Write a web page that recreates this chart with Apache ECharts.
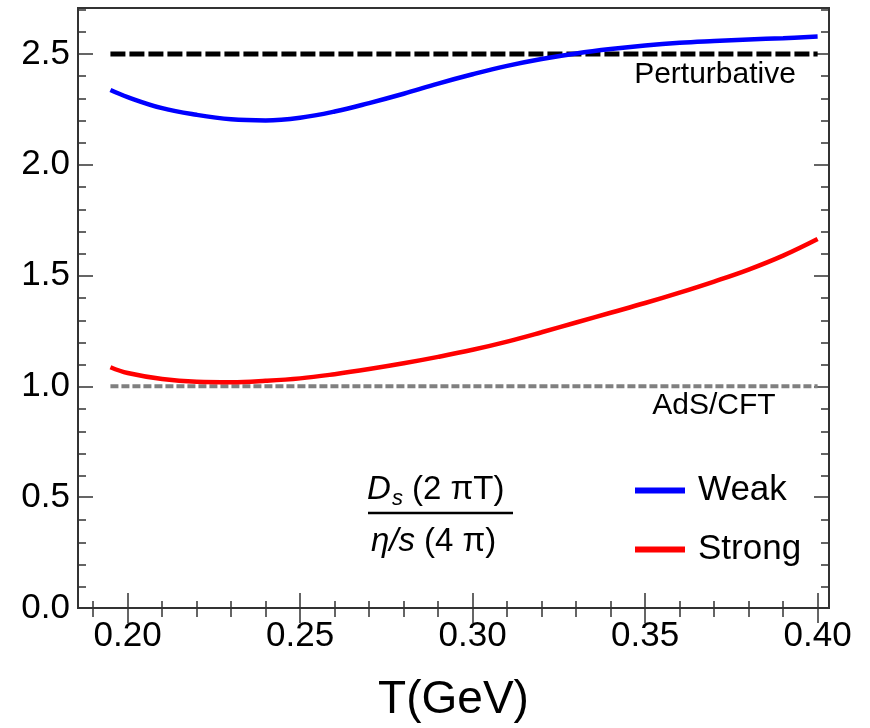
<!DOCTYPE html>
<html>
<head>
<meta charset="utf-8">
<script src="https://cdn.jsdelivr.net/npm/echarts@6/dist/echarts.min.js"></script>
<style>
  html, body { margin: 0; padding: 0; background: #fff; }
  #chart { width: 870px; height: 728px; }
</style>
</head>
<body>
<div id="chart"></div>
<script>
// Temperature grid (GeV)
const temperature = [0.195, 0.20, 0.21, 0.22, 0.23, 0.24, 0.25, 0.26, 0.27, 0.28, 0.29,
                     0.30, 0.31, 0.32, 0.33, 0.34, 0.35, 0.36, 0.37, 0.38, 0.39, 0.40];
// D_s(2πT) / (η/s · 4π) ratio
const weak   = [2.337, 2.305, 2.255, 2.225, 2.205, 2.200, 2.212, 2.240, 2.278, 2.320, 2.366,
                2.408, 2.446, 2.477, 2.502, 2.522, 2.538, 2.550, 2.558, 2.565, 2.571, 2.578];
const strong = [1.086, 1.060, 1.033, 1.021, 1.019, 1.025, 1.036, 1.055, 1.078, 1.104, 1.133,
                1.165, 1.202, 1.244, 1.288, 1.332, 1.376, 1.423, 1.473, 1.527, 1.590, 1.665];
// Reference limits
const perturbativeLimit = 2.5;
const adsCftLimit = 1.0;
const limitRange = [0.195, 0.40];

// Axis ranges and ticks
const xRange = [0.1856, 0.4033];
const yRange = [0, 2.707];
const xMajorTicks = [0.20, 0.25, 0.30, 0.35, 0.40];
const yMajorTicks = [0.0, 0.5, 1.0, 1.5, 2.0, 2.5];

function minorTicks(from, to, step, majors) {
  const out = [];
  const n = Math.round((to - from) / step);
  for (let i = 0; i <= n; i++) {
    const v = +(from + i * step).toFixed(4);
    if (!majors.some(m => Math.abs(m - v) < 1e-6)) out.push(v);
  }
  return out;
}
const xMinorTicks = minorTicks(0.19, 0.40, 0.01, xMajorTicks);
const yMinorTicks = minorTicks(0.1, 2.7, 0.1, yMajorTicks);

const FONT = '"Liberation Sans", Arial, sans-serif';
const FRAME = '#333';

const toPairs = (xs, ys) => xs.map((x, i) => [x, ys[i]]);

const gridRect = { left: 78, right: 41, top: 8, bottom: 119 };

function xAxisDef(gridIndex, position, ticks, len, withLabels) {
  return {
    type: 'value', gridIndex, position, min: xRange[0], max: xRange[1],
    axisLine: { show: false },
    splitLine: { show: false },
    axisTick: { show: true, inside: true, length: len, customValues: ticks,
                lineStyle: { color: FRAME, width: 1.5 } },
    axisLabel: withLabels ? {
      show: true, customValues: ticks, margin: 11, color: '#000',
      fontFamily: FONT, fontSize: 35, formatter: v => v.toFixed(2)
    } : { show: false }
  };
}
function yAxisDef(gridIndex, position, ticks, len, withLabels) {
  return {
    type: 'value', gridIndex, position, min: yRange[0], max: yRange[1],
    axisLine: { show: false },
    splitLine: { show: false },
    axisTick: { show: true, inside: true, length: len, customValues: ticks,
                lineStyle: { color: FRAME, width: 1.5 } },
    axisLabel: withLabels ? {
      show: true, customValues: ticks, margin: 8, color: '#000',
      fontFamily: FONT, fontSize: 35, formatter: v => v.toFixed(1)
    } : { show: false }
  };
}

const xAxes = [
  xAxisDef(0, 'bottom', xMajorTicks, 15, true),
  xAxisDef(0, 'top', xMajorTicks, 15, false),
  xAxisDef(1, 'bottom', xMinorTicks, 8, false),
  xAxisDef(1, 'top', xMinorTicks, 8, false)
];
Object.assign(xAxes[0], {
  name: 'T(GeV)', nameLocation: 'middle', nameGap: 69,
  nameTextStyle: { fontFamily: FONT, fontSize: 46, color: '#000' }
});
const yAxes = [
  yAxisDef(0, 'left', yMajorTicks, 15, true),
  yAxisDef(0, 'right', yMajorTicks, 15, false),
  yAxisDef(1, 'left', yMinorTicks, 8, false),
  yAxisDef(1, 'right', yMinorTicks, 8, false)
];

const chart = echarts.init(document.getElementById('chart'), null, { renderer: 'canvas' });

chart.setOption({
  animation: false,
  backgroundColor: '#fff',
  grid: [
    Object.assign({ show: true, borderColor: FRAME, borderWidth: 2, backgroundColor: 'transparent' }, gridRect),
    Object.assign({ show: false }, gridRect)
  ],
  xAxis: xAxes,
  yAxis: yAxes,
  legend: {
    data: ['Weak', 'Strong'],
    orient: 'vertical',
    left: 630, top: 468,
    icon: 'rect',
    itemWidth: 50, itemHeight: 6, itemGap: 24,
    textStyle: { fontFamily: FONT, fontSize: 35, color: '#000', padding: [0, 0, 0, 8] }
  },
  series: [
    {
      name: 'Perturbative', type: 'line', xAxisIndex: 0, yAxisIndex: 0,
      data: limitRange.map(x => [x, perturbativeLimit]),
      symbol: 'none', silent: true,
      lineStyle: { color: '#000', width: 5, type: [15, 4] }
    },
    {
      name: 'AdS/CFT', type: 'line', xAxisIndex: 0, yAxisIndex: 0,
      data: limitRange.map(x => [x, adsCftLimit]),
      symbol: 'none', silent: true,
      lineStyle: { color: '#808080', width: 4, type: [8, 3] }
    },
    {
      name: 'Weak', type: 'line', xAxisIndex: 0, yAxisIndex: 0,
      data: toPairs(temperature, weak), smooth: 0.4,
      symbol: 'none', color: '#0000ff',
      lineStyle: { color: '#0000ff', width: 4.5 }
    },
    {
      name: 'Strong', type: 'line', xAxisIndex: 0, yAxisIndex: 0,
      data: toPairs(temperature, strong), smooth: 0.4,
      symbol: 'none', color: '#ff0000',
      lineStyle: { color: '#ff0000', width: 4.5 }
    }
  ],
  graphic: [
    { type: 'text', x: 715, y: 75,
      style: { text: 'Perturbative', fontFamily: FONT, fontSize: 30, fill: '#000',
               textAlign: 'center', textVerticalAlign: 'middle' } },
    { type: 'text', x: 714, y: 406,
      style: { text: 'AdS/CFT', fontFamily: FONT, fontSize: 30, fill: '#000',
               textAlign: 'center', textVerticalAlign: 'middle' } },
    // fraction label: D_s (2 πT) over η/s (4 π)
    { type: 'text', x: 367, y: 490,
      style: { text: 'D', fontFamily: FONT, fontSize: 33, fontStyle: 'italic', fill: '#000',
               textAlign: 'left', textVerticalAlign: 'middle' } },
    { type: 'text', x: 392, y: 499,
      style: { text: 's', fontFamily: FONT, fontSize: 22, fontStyle: 'italic', fill: '#000',
               textAlign: 'left', textVerticalAlign: 'middle' } },
    { type: 'text', x: 412, y: 490,
      style: { text: '(2 \u03C0T)', fontFamily: FONT, fontSize: 33, fill: '#000',
               textAlign: 'left', textVerticalAlign: 'middle' } },
    { type: 'line', shape: { x1: 368, y1: 513, x2: 513, y2: 513 },
      style: { stroke: '#000', lineWidth: 2.5 } },
    { type: 'text', x: 371, y: 542,
      style: { text: '\u03B7/s', fontFamily: FONT, fontSize: 33, fontStyle: 'italic', fill: '#000',
               textAlign: 'left', textVerticalAlign: 'middle' } },
    { type: 'text', x: 424, y: 542,
      style: { text: '(4 \u03C0)', fontFamily: FONT, fontSize: 33, fill: '#000',
               textAlign: 'left', textVerticalAlign: 'middle' } }
  ]
});
</script>
</body>
</html>
